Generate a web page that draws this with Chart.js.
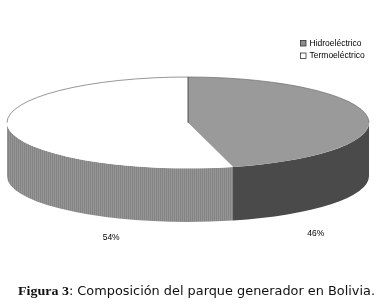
<!DOCTYPE html>
<html>
<head>
<meta charset="utf-8">
<script src="https://cdn.jsdelivr.net/npm/chart.js@4/dist/chart.umd.min.js"></script>
<style>
  html, body { margin: 0; padding: 0; background: #fff; }
  #wrap { position: relative; width: 387px; height: 306px; }
</style>
</head>
<body>
<div id="wrap"><canvas id="c" width="387" height="306"></canvas></div>
<script>
// ---- data ----
const categories = ['Hidroeléctrico', 'Termoeléctrico'];
const shares = [46, 54];
const captionBold = 'Figura 3';
const captionText = ': Composición del parque generador en Bolivia.';

// ---- styles ----
const topColors = ['#9a9a9a', '#ffffff'];
const legendColors = ['#8c8c8c', '#ffffff'];
const edgeColor = '#6a6a6a';
const DEPTH_RATIO = 54 / 46;   // wall height relative to ellipse minor radius

function stripePattern(ctx) {
  const p = document.createElement('canvas');
  p.width = 2; p.height = 1;
  const g = p.getContext('2d');
  g.fillStyle = '#848484'; g.fillRect(0, 0, 1, 1);
  g.fillStyle = '#959595'; g.fillRect(1, 0, 1, 1);
  return ctx.createPattern(p, 'repeat');
}

function geom(chart) {
  const a = chart.chartArea;
  const rx = (a.right - a.left) / 2;
  const h = a.bottom - a.top;
  const ry = h / (2 + DEPTH_RATIO);
  return { cx: (a.left + a.right) / 2, cy: a.top + ry, rx: rx, ry: ry, d: ry * DEPTH_RATIO };
}

function visibleRanges(s, e) {
  const out = [];
  for (let k = -1; k <= 1; k++) {
    const lo = Math.max(s, k * 2 * Math.PI);
    const hi = Math.min(e, k * 2 * Math.PI + Math.PI);
    if (hi > lo) out.push([lo - k * 2 * Math.PI, hi - k * 2 * Math.PI]);
  }
  return out;
}

const pie3d = {
  id: 'pie3d',
  beforeDatasetsDraw(chart) {
    const ctx = chart.ctx;
    const g = geom(chart);
    const meta = chart.getDatasetMeta(0);
    const wallFills = ['#4a4a4a', stripePattern(ctx)];
    chart.$labelPos = [];
    // side walls (front half only)
    meta.data.forEach((arc, i) => {
      const ranges = visibleRanges(arc.startAngle, arc.endAngle);
      let xs = [];
      ranges.forEach(([lo, hi]) => {
        ctx.save();
        ctx.beginPath();
        ctx.ellipse(g.cx, g.cy, g.rx, g.ry, 0, lo, hi, false);
        ctx.ellipse(g.cx, g.cy + g.d, g.rx, g.ry, 0, hi, lo, true);
        ctx.closePath();
        ctx.fillStyle = wallFills[i];
        ctx.fill();
        ctx.restore();
        xs.push(g.cx + g.rx * Math.cos(lo), g.cx + g.rx * Math.cos(hi));
      });
      if (xs.length) {
        const mid = (Math.min(...xs) + Math.max(...xs)) / 2;
        const dx = 1.13 * (mid - g.cx);
        chart.$labelPos[i] = { x: g.cx + dx, y: g.cy + g.ry + g.d + 14.5 - 0.0194 * dx };
      }
    });
    // squash the library's round pie into the top ellipse
    const arc0 = meta.data[0];
    const r = arc0.outerRadius;
    ctx.save();
    ctx.translate(g.cx, g.cy);
    ctx.scale(g.rx / r, g.ry / r);
    ctx.translate(-arc0.x, -arc0.y);
  },
  afterDatasetsDraw(chart) {
    const ctx = chart.ctx;
    ctx.restore();
    const g = geom(chart);
    const meta = chart.getDatasetMeta(0);
    // outlines of the top face
    ctx.save();
    ctx.strokeStyle = edgeColor;
    ctx.lineWidth = 0.7;
    ctx.beginPath();
    ctx.ellipse(g.cx, g.cy, g.rx, g.ry, Math.PI, 0, Math.PI);
    ctx.stroke();
    ctx.strokeStyle = '#444';
    ctx.lineWidth = 0.9;
    meta.data.forEach((arc) => {
      if (Math.sin(arc.startAngle) < 0) {
        ctx.beginPath();
        ctx.moveTo(g.cx, g.cy);
        ctx.lineTo(g.cx + g.rx * Math.cos(arc.startAngle), g.cy + g.ry * Math.sin(arc.startAngle));
        ctx.stroke();
      }
    });
    ctx.restore();
    // percentage labels
    const total = shares.reduce((s, v) => s + v, 0);
    ctx.save();
    ctx.fillStyle = '#000';
    ctx.font = '8.5px "Liberation Sans", Arial, sans-serif';
    ctx.textAlign = 'center';
    ctx.textBaseline = 'middle';
    shares.forEach((v, i) => {
      const p = chart.$labelPos[i];
      if (p) ctx.fillText(Math.round(v / total * 100) + '%', p.x, p.y);
    });
    ctx.restore();
  },
  afterDraw(chart) {
    const ctx = chart.ctx;
    // legend (items generated by the library)
    const items = Chart.overrides.pie.plugins.legend.labels.generateLabels(chart);
    ctx.save();
    ctx.font = '8.5px "Liberation Sans", Arial, sans-serif';
    ctx.textBaseline = 'middle';
    items.forEach((it, i) => {
      const y = 43 + i * 12.5;
      ctx.fillStyle = legendColors[i];
      ctx.fillRect(300.5, y - 2.5, 5.5, 5.5);
      ctx.strokeStyle = '#333';
      ctx.lineWidth = 0.8;
      ctx.strokeRect(300.5, y - 2.5, 5.5, 5.5);
      ctx.fillStyle = '#000';
      ctx.fillText(it.text, 309.5, y + 0.5);
    });
    ctx.restore();
    // caption
    ctx.save();
    ctx.fillStyle = '#111';
    ctx.textBaseline = 'alphabetic';
    const boldFont = 'bold 12.5px "Liberation Serif", serif';
    const normFont = '11.5px "DejaVu Sans", sans-serif';
    ctx.font = boldFont; const w1 = ctx.measureText(captionBold).width;
    ctx.font = normFont; const w2 = ctx.measureText(captionText).width;
    const x0 = 18, x1 = 375;
    const sx = (x1 - x0) / (w1 + w2);
    ctx.translate(x0, 294.5);
    ctx.scale(sx, 1);
    ctx.font = boldFont; ctx.fillText(captionBold, 0, 0);
    ctx.font = normFont; ctx.fillText(captionText, w1, 0);
    ctx.restore();
  }
};

new Chart(document.getElementById('c'), {
  type: 'pie',
  data: {
    labels: categories,
    datasets: [{
      data: shares,
      backgroundColor: topColors,
      borderWidth: 0,
      clip: false
    }]
  },
  options: {
    responsive: false,
    animation: false,
    events: [],
    layout: { padding: { left: 7, right: 18, top: 77, bottom: 84 } },
    plugins: { legend: { display: false }, tooltip: { enabled: false } }
  },
  plugins: [pie3d]
});
</script>
</body>
</html>
